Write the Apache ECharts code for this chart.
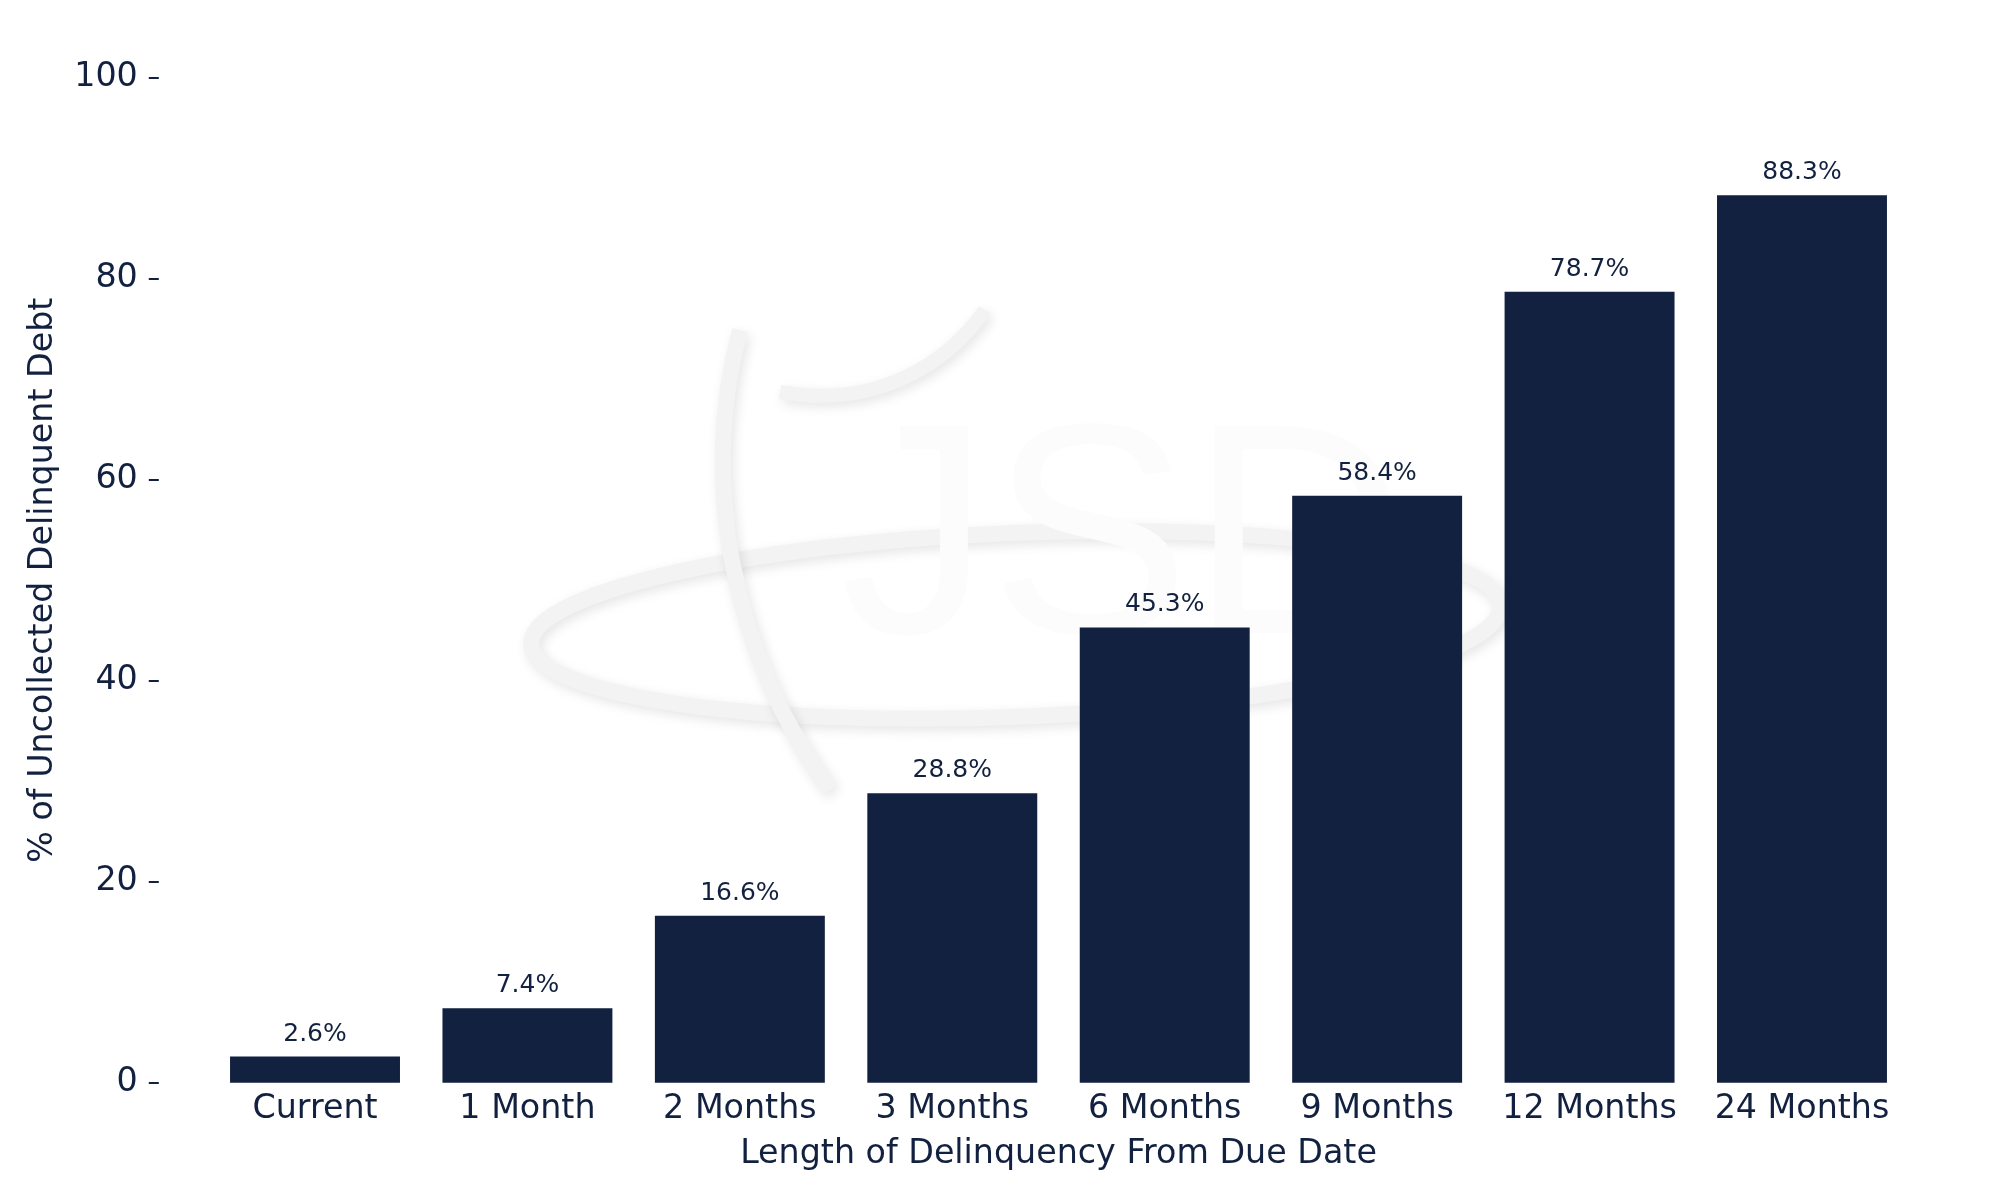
<!DOCTYPE html>
<html>
<head>
<meta charset="utf-8">
<script src="https://cdn.jsdelivr.net/npm/echarts@6/dist/echarts.min.js"></script>
<style>html,body{margin:0;padding:0;background:#fff}#c{width:2000px;height:1200px}</style>
</head>
<body>
<div id="c"></div>
<script>
const categories = ['Current', '1 Month', '2 Months', '3 Months', '6 Months', '9 Months', '12 Months', '24 Months'];
const values = [2.6, 7.4, 16.6, 28.8, 45.3, 58.4, 78.7, 88.3];
const yTicks = [0, 20, 40, 60, 80, 100];

const navy = '#12213f';
const font = 'DejaVu Sans';
const fs = 33.3;
const wmStyle = { fill: 'none', stroke: '#f3f3f3', shadowBlur: 12, shadowColor: 'rgba(0,0,0,0.10)', shadowOffsetX: 3, shadowOffsetY: 4 };
const chart = echarts.init(document.getElementById('c'));
chart.setOption({
  backgroundColor: '#ffffff',
  animation: false,
  grid: { left: 208.8, right: 91.8, top: 77.7, bottom: 117.3 },
  graphic: [
    { type: 'ellipse', z: -10, silent: true,
      shape: { cx: 990, cy: 665, rx: 485, ry: 92 },
      rotation: 0.04,
      style: Object.assign({}, wmStyle, { lineWidth: 16 }) },
    { type: 'bezierCurve', z: -10, silent: true,
      shape: { x1: 740, y1: 330, x2: 830, y2: 790, cpx1: 700, cpy1: 480, cpx2: 730, cpy2: 650 },
      style: Object.assign({}, wmStyle, { lineWidth: 16 }) },
    { type: 'bezierCurve', z: -10, silent: true,
      shape: { x1: 780, y1: 392, x2: 985, y2: 310, cpx1: 880, cpy1: 410, cpx2: 950, cpy2: 360 },
      style: Object.assign({}, wmStyle, { lineWidth: 14 }) },
    { type: 'text', z: -9, silent: true, left: 840, top: 400,
      style: { text: 'JSD', font: '300px "Liberation Sans"', fill: '#fcfcfc', shadowBlur: 14, shadowColor: 'rgba(0,0,0,0.14)', shadowOffsetX: 5, shadowOffsetY: 5 } }
  ],
  xAxis: {
    type: 'category',
    data: categories,
    name: 'Length of Delinquency From Due Date',
    nameLocation: 'middle',
    nameGap: 55,
    nameTextStyle: { color: navy, fontSize: fs, fontFamily: font },
    axisLine: { show: false },
    axisTick: { show: false },
    axisLabel: { color: navy, fontSize: fs, fontFamily: font, margin: 10, interval: 0 }
  },
  yAxis: {
    type: 'value',
    min: 0, max: 100, interval: 20,
    offset: 50,
    name: '% of Uncollected Delinquent Debt',
    nameLocation: 'middle',
    nameGap: 99,
    nameTextStyle: { color: navy, fontSize: fs, fontFamily: font },
    axisLine: { show: false },
    axisTick: { show: true, length: 10, lineStyle: { color: navy, width: 2 } },
    splitLine: { show: false },
    axisLabel: { color: navy, fontSize: fs, fontFamily: font, margin: 21,
      formatter: v => yTicks.includes(v) ? String(v) : '' }
  },
  series: [{
    type: 'bar',
    data: values,
    barWidth: '80%',
    itemStyle: { color: navy },
    label: { show: true, position: 'top', distance: 10, color: navy, fontSize: 25, fontFamily: font,
      formatter: p => p.value.toFixed(1) + '%' }
  }]
});
</script>
</body>
</html>
